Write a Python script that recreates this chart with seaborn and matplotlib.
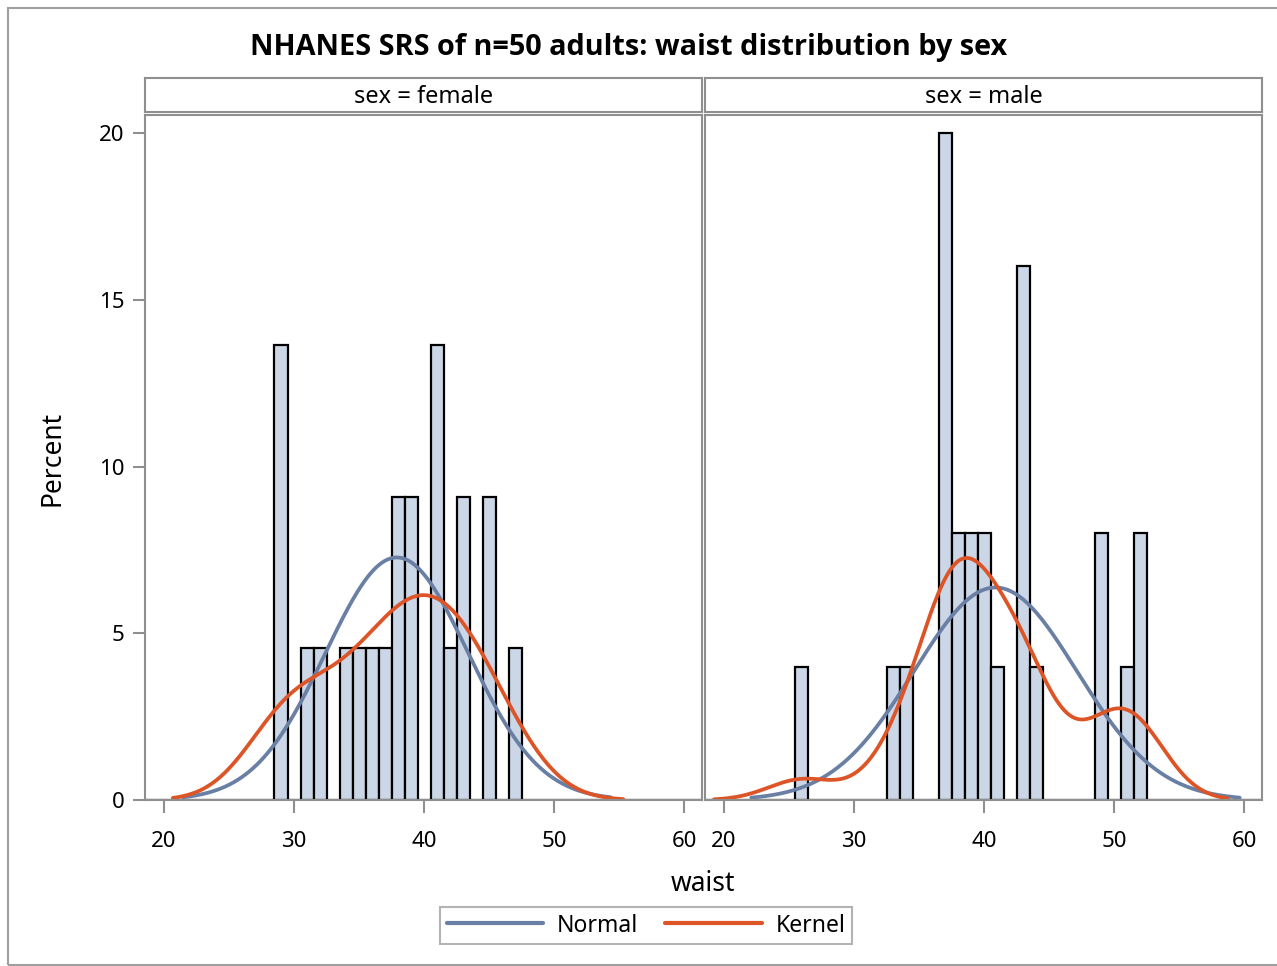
import numpy as np
import pandas as pd
import matplotlib
matplotlib.use("Agg")
import matplotlib.pyplot as plt
from matplotlib.lines import Line2D
from matplotlib.patches import Rectangle
import seaborn as sns

# ---- data (waist values, one per adult, binned at width 1) ----
female_waist = [29, 29, 29, 31, 32, 34, 35, 36, 37, 38, 38, 39, 39,
                41, 41, 41, 42, 43, 43, 45, 45, 47]
male_waist = [26, 33, 34, 37, 37, 37, 37, 37, 38, 38, 39, 39, 40, 40,
              41, 43, 43, 43, 43, 44, 49, 49, 51, 52, 52]
panels = ["female", "male"]
kernel_bw = {"female": 3.2, "male": 2.6}
x_ticks = [20, 30, 40, 50, 60]
y_ticks = [0, 5, 10, 15, 20]
title = "NHANES SRS of n=50 adults: waist distribution by sex"

df = pd.DataFrame({
    "waist": female_waist + male_waist,
    "sex": ["female"] * len(female_waist) + ["male"] * len(male_waist),
})

sns.set_theme(style="white")
plt.rcParams["font.family"] = ["Noto Sans", "DejaVu Sans"]
plt.rcParams["text.color"] = "black"
plt.rcParams["axes.labelcolor"] = "black"

W, H = 1277, 966
fig = plt.figure(figsize=(W / 100, H / 100), dpi=100)

GRAY = "#8f8f8f"
FILL = "#cbd6e6"
NORMAL_C = "#6a7fa4"
KERNEL_C = "#dd5426"
LW_AX = 1.5


def px_axes(x0, y0, x1, y1):
    return fig.add_axes([x0 / W, 1 - y1 / H, (x1 - x0) / W, (y1 - y0) / H])


# outer frame
fig.patches.append(Rectangle((8 / W, 1 - 965 / H), 1.2, (965 - 8) / H,
                             transform=fig.transFigure, fill=False,
                             edgecolor="#a0a0a0", lw=1.5))

fig.text(629 / W, 1 - 48 / H, title, ha="center", va="center", color="black",
         fontsize=20.8, fontweight="bold", family=["Open Sans", "Lato", "DejaVu Sans"])

bins = np.arange(18.5, 62.0, 1.0)
panel_x = {"female": (145, 702), "male": (705, 1262)}

for i, sex in enumerate(panels):
    x0, x1 = panel_x[sex]
    # header strip
    hax = px_axes(x0, 78, x1, 112)
    hax.set_xticks([]); hax.set_yticks([])
    for s in hax.spines.values():
        s.set_color(GRAY); s.set_linewidth(LW_AX)
    hax.text(0.5, 0.45, f"sex = {sex}", ha="center", va="center", color="black",
             fontsize=17, transform=hax.transAxes)

    ax = px_axes(x0, 115, x1, 800)
    sub = df[df["sex"] == sex]
    sns.histplot(data=sub, x="waist", bins=bins, stat="percent", ax=ax,
                 color=FILL, edgecolor="black", linewidth=1.6, alpha=1)

    vals = sub["waist"].to_numpy(dtype=float)
    n = len(vals)
    mu, sd = vals.mean(), vals.std(ddof=1)
    xs = np.linspace(mu - 3 * sd, mu + 3 * sd, 300)
    normal = 100 * np.exp(-0.5 * ((xs - mu) / sd) ** 2) / (sd * np.sqrt(2 * np.pi))
    h = kernel_bw[sex]
    xk = np.linspace(vals.min() - 2.6 * h, vals.max() + 2.6 * h, 400)
    kern = 100 * np.exp(-0.5 * ((xk[:, None] - vals[None, :]) / h) ** 2).sum(1) / (n * h * np.sqrt(2 * np.pi))
    sns.lineplot(x=xs, y=normal, ax=ax, color=NORMAL_C, lw=2.7)
    sns.lineplot(x=xk, y=kern, ax=ax, color=KERNEL_C, lw=2.7)

    ax.set_xlim(18.54, 61.38)
    ax.set_ylim(0, 20.54)
    ax.set_xticks(x_ticks)
    ax.set_xticklabels([str(t) for t in x_ticks], fontsize=16)
    ax.set_xlabel(""); ax.set_ylabel("")
    ax.tick_params(axis="x", bottom=True, length=9, width=LW_AX, color=GRAY,
                   pad=13, labelcolor="black")
    if i == 0:
        ax.set_yticks(y_ticks)
        ax.set_yticklabels([str(t) for t in y_ticks], fontsize=16)
        ax.tick_params(axis="y", left=True, length=9, width=LW_AX, color=GRAY,
                       pad=6, labelcolor="black")
    else:
        ax.set_yticks(y_ticks)
        ax.tick_params(axis="y", left=False, labelleft=False)
    for s in ax.spines.values():
        s.set_visible(True); s.set_color(GRAY); s.set_linewidth(LW_AX)

fig.text(52 / W, 1 - 458 / H, "Percent", rotation=90, ha="center", va="center",
         fontsize=19, color="black")
fig.text(703 / W, 1 - 884 / H, "waist", ha="center", va="center", fontsize=19,
         color="black")

handles = [Line2D([], [], color=NORMAL_C, lw=3), Line2D([], [], color=KERNEL_C, lw=3)]
leg = fig.legend(handles, ["Normal", "Kernel"], loc="center",
                 bbox_to_anchor=(646 / W, 1 - 925.5 / H), ncol=2, fontsize=16.5,
                 frameon=True, fancybox=False, edgecolor="#a0a0a0",
                 handlelength=4.2, columnspacing=1.2, handletextpad=0.6,
                 borderpad=0.3, borderaxespad=0)
leg.get_frame().set_linewidth(1.5)
for t in leg.get_texts():
    t.set_color("black")

fig.savefig("out.png", dpi=100)
